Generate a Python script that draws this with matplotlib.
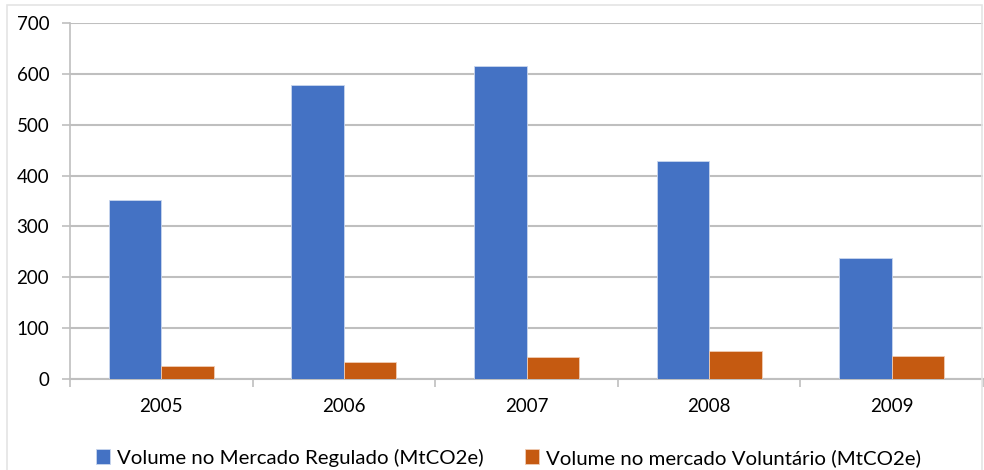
import numpy as np
import matplotlib
matplotlib.use("Agg")
from matplotlib import pyplot as plt
from matplotlib.patches import Rectangle

years = ["2005", "2006", "2007", "2008", "2009"]
regulado = [352, 578, 615, 429, 237]
voluntario = [25, 33, 43, 56, 45]
labels = ["Volume no Mercado Regulado (MtCO2e)", "Volume no mercado Voluntário (MtCO2e)"]

BLUE = "#4472C4"
ORANGE = "#C55A11"
GRID = "#BFBFBF"

plt.rcParams["font.family"] = ["Lato", "DejaVu Sans"]

fig = plt.figure(figsize=(9.84, 4.70), dpi=100)
ax = fig.add_axes([70 / 984, 1 - 379 / 470, 913 / 984, 356 / 470])

# light frame around the whole chart area
fig.patches.append(Rectangle((7 / 984, -0.01), 975 / 984, 1.01 - 5 / 470, transform=fig.transFigure,
                             fill=False, edgecolor="#E4E4E4", linewidth=1.2))

x = np.arange(len(years))
w = 0.287
ax.bar(x - w / 2, regulado, w, color=BLUE, edgecolor="#C9D6EE", linewidth=0.6, label=labels[0], zorder=3)
ax.bar(x + w / 2, voluntario, w, color=ORANGE, edgecolor="#F0CDB5", linewidth=0.6, label=labels[1], zorder=3)

ax.set_xlim(-0.5, len(years) - 0.5)
ax.set_ylim(0, 700)
ax.set_yticks(range(0, 701, 100))
ax.set_xticks(x)
ax.set_xticklabels(years)
ax.set_xticks(np.arange(-0.5, len(years), 1), minor=True)

ax.grid(axis="y", color=GRID, linewidth=1.5, zorder=0)
for side in ["top", "right"]:
    ax.spines[side].set_visible(False)
ax.spines["left"].set_color(GRID)
ax.spines["bottom"].set_color(GRID)
ax.spines["left"].set_linewidth(1.2)
ax.spines["bottom"].set_linewidth(1.5)

ax.tick_params(axis="y", length=6, color=GRID, width=1.2, labelsize=13.5, pad=9)
ax.tick_params(axis="x", which="major", length=0, labelsize=13.5, pad=14)
ax.tick_params(axis="x", which="minor", length=6, color=GRID, width=1.2)

fig.legend(loc="lower center", bbox_to_anchor=(0.517, -0.032), ncol=2, frameon=False,
           fontsize=14.7, handlelength=0.7, handleheight=0.7, handletextpad=0.35, columnspacing=2.0)

fig.savefig("out.png", dpi=100, facecolor="white")
